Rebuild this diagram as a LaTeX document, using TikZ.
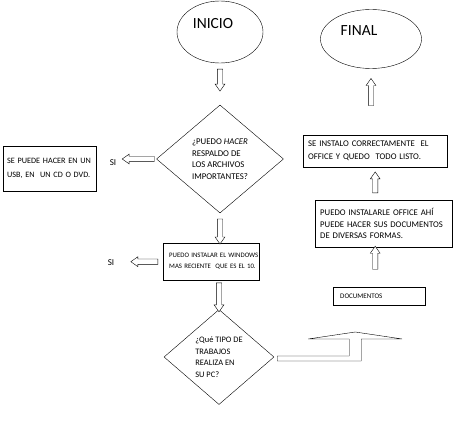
\documentclass[tikz,border=0pt]{standalone}
\usepackage{fontspec}
\setmainfont{Carlito}
\usetikzlibrary{shapes.geometric, shapes.arrows, calc}

\tikzset{
  eltext/.style={font=\fontsize{15.5}{18}\selectfont},
  inout/.style={ellipse, draw, thin, inner sep=0pt},
  procbox/.style={draw, thin, anchor=north west, align=left, inner xsep=5pt, inner ysep=0pt},
  decision/.style={diamond, draw, thin, inner sep=0pt, align=left},
  hollowarrow/.style={single arrow, draw, thin, fill=white, inner xsep=0pt, inner ysep=2.5pt,
    single arrow head extend=2.2pt, single arrow tip angle=70, sloped, allow upside down},
  silabel/.style={font=\fontsize{9}{10}\selectfont}
}

\begin{document}
\begin{tikzpicture}[x=1pt, y=-1pt]
    \fill[white] (0,0) rectangle (474,433);
    \useasboundingbox (0,0) rectangle (474,433);

    % Start and end
    \node[inout, minimum width=86pt, minimum height=62pt,
          label={[eltext, xshift=-7pt, yshift=8pt]center:INICIO}] (inicio) at (220,32) {};
    \node[inout, minimum width=101pt, minimum height=59pt,
          label={[eltext, xshift=-12pt, yshift=8pt]center:FINAL}] (fin) at (371,39) {};

    % Left column
    \node[decision, minimum width=127pt, minimum height=108pt, font=\fontsize{8.8}{11.6}\selectfont] (dia1) at (220,159)
        {¿PUEDO \textit{HACER}\\RESPALDO DE\\LOS ARCHIVOS\\IMPORTANTES?};
    \node[procbox, text width=85pt, minimum height=45pt, inner xsep=4pt, font=\fontsize{8.2}{14}\selectfont] (usb) at (3,146)
        {\mbox{SE PUEDE HACER EN UN}\\\mbox{USB, EN\ \ UN CD O DVD.}};
    \node[silabel] (si1) at (113,163) {SI};

    \node[procbox, text width=84pt, minimum height=37pt, inner xsep=6pt, font=\fontsize{6.8}{11}\selectfont] (win) at (163,243)
        {\mbox{PUEDO INSTALAR EL WINDOWS}\\\mbox{MAS RECIENTE\ \ QUE ES EL 10.}};
    \node[silabel] (si2) at (111,263) {SI};

    \node[decision, minimum width=110pt, minimum height=95pt, font=\fontsize{8.4}{11.6}\selectfont] (dia2) at (219,357)
        {¿Qué TIPO DE\\TRABAJOS\\REALIZA EN\\SU PC?};

    % Right column
    \node[procbox, text width=134pt, minimum height=32pt, font=\fontsize{8.7}{13}\selectfont] (inst) at (303,135)
        {SE INSTALO CORRECTAMENTE\ \ EL\\OFFICE Y QUEDO\ \ TODO LISTO.};
    \node[procbox, text width=127pt, minimum height=47pt, font=\fontsize{8.7}{11.5}\selectfont] (office) at (315,200)
        {\mbox{PUEDO INSTALARLE OFFICE AHÍ}\\\mbox{PUEDE HACER SUS DOCUMENTOS}\\DE DIVERSAS FORMAS.};
    \node[procbox, text width=78pt, minimum height=18pt, inner xsep=7pt, font=\fontsize{7}{8}\selectfont] (docs) at (333,287)
        {DOCUMENTOS};

    % Hollow arrows
    \path (inicio.south) -- (dia1.north) node[hollowarrow, pos=.36, minimum height=22pt] (a1) {};
    \path (dia1.west) -- (dia1.west -| usb.east) node[hollowarrow, pos=.27, minimum height=32pt] (a2) {};
    \path (dia1.south) -- (dia1.south |- win.north) node[hollowarrow, pos=.55, minimum height=25pt] (a3) {};
    \path (win.west) -- (win.west -| si2.east) node[hollowarrow, pos=.37, minimum height=27pt] (a4) {};
    \path (win.south -| dia2.north) -- (dia2.north) node[hollowarrow, pos=.52, minimum height=29pt] (a5) {};
    \path (docs.north -| inst.south) -- (office.south -| inst.south) node[hollowarrow, pos=.69, minimum height=23pt] (a6) {};
    \path (office.north -| inst.south) -- (inst.south) node[hollowarrow, pos=.48, minimum height=21pt] (a7) {};
    \path (inst.north -| fin.south) -- (fin.south) node[hollowarrow, pos=.62, minimum height=27pt] (a8) {};

    % Bent arrow out of the second decision
    \draw[thin, fill=white] ($(dia2.east)+(3,-1)$) -- ++(72,0) -- ++(0,-17) -- ++(-41,0) -- ++(47,-7)
        -- ++(47,7) -- ++(-41,0) -- ++(0,22) -- ++(-84,0) -- cycle;
\end{tikzpicture}
\end{document}
